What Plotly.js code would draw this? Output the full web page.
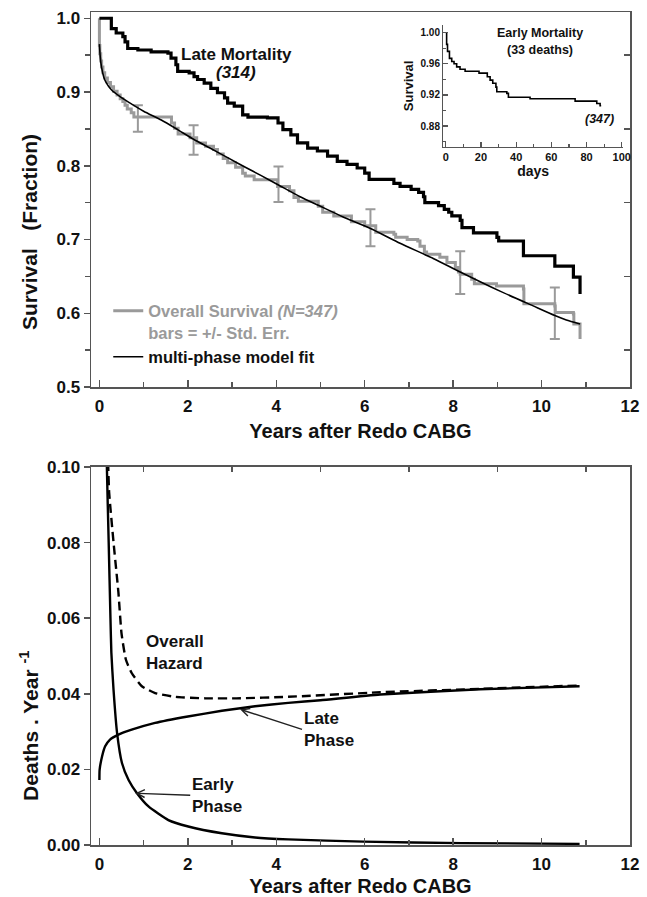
<!DOCTYPE html>
<html>
<head>
<meta charset="utf-8">
<script src="https://cdn.plot.ly/plotly-3.0.1.min.js"></script>
<style>html,body{margin:0;padding:0;background:#fff;}#chart{width:647px;height:897px;}</style>
</head>
<body>
<div id="chart"></div>
<script>
// ---- Late mortality Kaplan-Meier (years, survival) ----
const lateX = [0, 0.27, 0.38, 0.53, 0.58, 0.64, 0.87, 1.17, 1.55, 1.62, 1.73, 1.77, 2.03, 2.14, 2.22, 2.37, 2.52, 2.67, 2.83, 2.9, 3.05, 3.24, 3.36, 3.8, 4.04, 4.15, 4.33, 4.48, 4.71, 4.93, 5.16, 5.38, 5.6, 5.83, 6.0, 6.1, 6.66, 6.8, 7.05, 7.22, 7.33, 7.36, 7.67, 7.8, 7.9, 7.97, 8.16, 8.2, 8.46, 8.99, 9.03, 9.59, 10.3, 10.72, 10.87];
const lateY = [1.0, 0.986, 0.98, 0.975, 0.968, 0.959, 0.957, 0.9545, 0.9527, 0.946, 0.937, 0.928, 0.926, 0.921, 0.917, 0.912, 0.905, 0.899, 0.892, 0.885, 0.881, 0.869, 0.866, 0.865, 0.858, 0.849, 0.842, 0.831, 0.824, 0.82, 0.813, 0.806, 0.802, 0.797, 0.79, 0.7815, 0.776, 0.772, 0.768, 0.764, 0.758, 0.75, 0.746, 0.741, 0.737, 0.732, 0.726, 0.716, 0.709, 0.703, 0.698, 0.678, 0.664, 0.649, 0.626];

// ---- Overall survival Kaplan-Meier ----
const overallX = [0, 0, 0.01, 0.03, 0.05, 0.08, 0.12, 0.18, 0.25, 0.32, 0.4, 0.47, 0.53, 0.58, 0.63, 0.72, 0.78, 1.63, 1.7, 1.78, 2.05, 2.2, 2.4, 2.58, 2.67, 2.8, 2.9, 3.08, 3.24, 3.3, 3.5, 4.03, 4.3, 4.4, 4.5, 4.95, 5.05, 5.3, 5.7, 6.0, 6.25, 6.66, 6.7, 6.96, 7.2, 7.25, 7.35, 7.4, 7.7, 7.86, 8.05, 8.12, 8.16, 8.42, 8.48, 8.98, 9.59, 9.6, 10.3, 10.31, 10.72, 10.73, 10.87, 10.87];
const overallY = [1.0, 0.963, 0.952, 0.942, 0.934, 0.926, 0.919, 0.913, 0.907, 0.901, 0.896, 0.891, 0.887, 0.882, 0.877, 0.872, 0.866, 0.858, 0.851, 0.843, 0.838, 0.831, 0.8265, 0.822, 0.816, 0.81, 0.804, 0.798, 0.79, 0.786, 0.781, 0.772, 0.766, 0.757, 0.752, 0.745, 0.737, 0.732, 0.724, 0.7185, 0.71, 0.707, 0.703, 0.7, 0.698, 0.691, 0.683, 0.68, 0.676, 0.669, 0.662, 0.656, 0.653, 0.646, 0.64, 0.637, 0.633, 0.613, 0.61, 0.601, 0.599, 0.5855, 0.583, 0.565];

// ---- Standard error bars on overall survival ----
const errX = [0.87, 2.13, 4.05, 6.13, 8.16, 10.3];
const errY = [0.864, 0.835, 0.775, 0.716, 0.655, 0.60];
const errSE = [0.018, 0.02, 0.024, 0.025, 0.029, 0.035];

// ---- Multi-phase model fit ----
const fitX = [0, 0.02, 0.05, 0.1, 0.15, 0.27, 0.46, 0.64, 1.0, 1.4, 1.77, 2.13, 2.5, 2.9, 3.3, 3.65, 4.05, 4.54, 5.0, 5.5, 6.13, 6.8, 7.56, 8.16, 9.06, 9.81, 10.3, 10.56, 10.87];
const fitY = [0.965, 0.947, 0.933, 0.92, 0.913, 0.903, 0.894, 0.887, 0.874, 0.862, 0.849, 0.836, 0.824, 0.811, 0.798, 0.787, 0.774, 0.758, 0.745, 0.731, 0.715, 0.695, 0.674, 0.656, 0.630, 0.610, 0.597, 0.591, 0.5855];

// ---- Inset: early mortality (days, survival) ----
const earlyDays = [0, 0.5, 1.0, 2.1, 3.4, 4.7, 6.2, 8.1, 11, 18.9, 23.6, 25.2, 26.7, 28.5, 29, 34.7, 35.6, 47.9, 73.5, 85.8, 87.7, 88.3];
const earlySurv = [1.0, 0.985, 0.976, 0.967, 0.963, 0.96, 0.956, 0.953, 0.9505, 0.948, 0.9434, 0.939, 0.935, 0.93, 0.924, 0.922, 0.917, 0.915, 0.912, 0.909, 0.906, 0.906];

// ---- Hazard functions (years, deaths/year) ----
const latePhaseX = [0, 0.005, 0.06, 0.13, 0.24, 0.43, 0.73, 1.26, 2.0, 2.77, 3.52, 4.27, 5.0, 6.35, 8.61, 10.86];
const latePhaseY = [0.0172, 0.0199, 0.0234, 0.0261, 0.0279, 0.0292, 0.0305, 0.0323, 0.034, 0.0355, 0.0367, 0.0376, 0.0383, 0.0398, 0.0412, 0.042];
const earlyPhaseX = [0.16, 0.17, 0.21, 0.25, 0.27, 0.32, 0.40, 0.51, 0.66, 0.85, 1.11, 1.56, 2.01, 2.77, 3.52, 4.27, 5.97, 8.2, 10.86];
const earlyPhaseY = [0.11, 0.0995, 0.08, 0.06, 0.051, 0.041, 0.0296, 0.0217, 0.0172, 0.0137, 0.0102, 0.0066, 0.0049, 0.0031, 0.002, 0.0015, 0.0009, 0.0005, 0.0003];
const overallHazX = [0.19, 0.2, 0.22, 0.32, 0.43, 0.5, 0.6, 0.73, 0.96, 1.26, 1.71, 2.4, 3.1, 4.27, 6.35, 8.61, 10.86];
const overallHazY = [0.105, 0.1, 0.0933, 0.08, 0.0668, 0.056, 0.049, 0.0455, 0.042, 0.0402, 0.0392, 0.0388, 0.0388, 0.0392, 0.0404, 0.0413, 0.0422];

// ---- Extra tick positions (mirrored borders) ----
const rightTickVals = [0.55, 0.65, 0.75, 0.85, 0.95];
const topTickVals = [1, 3, 5, 7, 9, 11];

const FONT = 'Liberation Sans, Arial, sans-serif';
const GRAY = '#9a9a9a';
const AX = '#555';

const traces = [
  {x: overallX, y: overallY, type: 'scatter', mode: 'lines', line: {shape: 'hv', color: GRAY, width: 3},
   name: '<span style="color:#9a9a9a">Overall Survival <i>(N=347)</i></span><br><span style="color:#9a9a9a">bars = +/- Std. Err.</span>',
   xaxis: 'x', yaxis: 'y', showlegend: true},
  {x: errX, y: errY, type: 'scatter', mode: 'markers', marker: {size: 1, color: 'rgba(0,0,0,0)'},
   error_y: {type: 'data', array: errSE, visible: true, color: GRAY, thickness: 2, width: 5},
   xaxis: 'x', yaxis: 'y', showlegend: false, hoverinfo: 'skip'},
  {x: fitX, y: fitY, type: 'scatter', mode: 'lines', line: {shape: 'spline', smoothing: 0.6, color: '#000', width: 1.6},
   name: 'multi-phase model fit', xaxis: 'x', yaxis: 'y', showlegend: true},
  {x: lateX, y: lateY, type: 'scatter', mode: 'lines', line: {shape: 'hv', color: '#000', width: 3.2},
   name: 'Late Mortality', xaxis: 'x', yaxis: 'y', showlegend: false},
  {x: earlyDays, y: earlySurv, type: 'scatter', mode: 'lines', line: {shape: 'hv', color: '#000', width: 1.6},
   name: 'Early Mortality', xaxis: 'x3', yaxis: 'y3', showlegend: false},
  {x: overallHazX, y: overallHazY, type: 'scatter', mode: 'lines', line: {shape: 'spline', smoothing: 0.5, color: '#000', width: 2.4, dash: '9px,5px'},
   name: 'Overall Hazard', xaxis: 'x2', yaxis: 'y2', showlegend: false},
  {x: latePhaseX, y: latePhaseY, type: 'scatter', mode: 'lines', line: {shape: 'spline', smoothing: 0.5, color: '#000', width: 2.4},
   name: 'Late Phase', xaxis: 'x2', yaxis: 'y2', showlegend: false},
  {x: earlyPhaseX, y: earlyPhaseY, type: 'scatter', mode: 'lines', line: {shape: 'spline', smoothing: 0.5, color: '#000', width: 2.4},
   name: 'Early Phase', xaxis: 'x2', yaxis: 'y2', showlegend: false},
  {x: [], y: [], type: 'scatter', xaxis: 'x', yaxis: 'y4', showlegend: false},
  {x: [], y: [], type: 'scatter', xaxis: 'x4', yaxis: 'y2', showlegend: false}
];

const axBase = {showline: true, linecolor: AX, linewidth: 1.5, showgrid: false, zeroline: false,
  tickcolor: AX, tickwidth: 1.5, tickfont: {size: 17, color: '#111'}};

const layout = {
  width: 647, height: 897,
  margin: {l: 91, r: 17, t: 12, b: 52},
  paper_bgcolor: '#fff', plot_bgcolor: '#fff',
  font: {family: FONT, weight: 'bold', color: '#111'},
  showlegend: true,
  legend: {x: 0.032, y: 0.662, xanchor: 'left', yanchor: 'top', bgcolor: 'rgba(0,0,0,0)',
    font: {size: 16.5, weight: 'bold', color: '#111'}, valign: 'top', traceorder: 'normal', tracegroupgap: 4},
  xaxis: Object.assign({}, axBase, {domain: [0, 1], anchor: 'y', range: [-0.19, 12], tick0: 0, dtick: 2,
    ticks: 'inside', ticklen: 7, mirror: true, ticklabelstandoff: 3,
    minor: {dtick: 1, ticks: 'inside', ticklen: 5, tickcolor: AX, tickwidth: 1.5},
    title: {text: 'Years after Redo CABG', font: {size: 20, weight: 'bold'}, standoff: 9}}),
  yaxis: Object.assign({}, axBase, {domain: [0.5498, 1], anchor: 'x', range: [0.5, 1.0085], tick0: 0.5, dtick: 0.1,
    tickformat: '.1f', ticks: 'outside', ticklen: 6, mirror: true,
    minor: {dtick: 0.05, ticks: 'outside', ticklen: 5, tickcolor: AX, tickwidth: 1.5}}),
  yaxis4: {overlaying: 'y', anchor: 'x', side: 'right', range: [0.5, 1.0085], tickvals: rightTickVals,
    ticks: 'inside', ticklen: 6, tickwidth: 1.5, tickcolor: AX, showticklabels: false, showline: false,
    showgrid: false, zeroline: false},
  xaxis2: Object.assign({}, axBase, {domain: [0, 1], anchor: 'y2', range: [-0.19, 12], tick0: 0, dtick: 2,
    ticks: 'inside', ticklen: 7, mirror: true, ticklabelstandoff: 3,
    minor: {dtick: 1, ticks: 'inside', ticklen: 5, tickcolor: AX, tickwidth: 1.5},
    title: {text: 'Years after Redo CABG', font: {size: 20, weight: 'bold'}, standoff: 9}}),
  yaxis2: Object.assign({}, axBase, {domain: [0, 0.4538], anchor: 'x2', range: [0, 0.10], tick0: 0, dtick: 0.02,
    tickformat: '.2f', ticks: 'outside', ticklen: 6, mirror: true}),
  xaxis4: {overlaying: 'x2', anchor: 'y2', side: 'top', range: [-0.19, 12], tickvals: topTickVals,
    ticks: 'inside', ticklen: 5, tickwidth: 1.5, tickcolor: AX, showticklabels: false, showline: false,
    showgrid: false, zeroline: false},
  xaxis3: {domain: [0.6536, 0.987], anchor: 'y3', range: [-1.4, 100.7], tick0: 0, dtick: 20,
    showline: true, linecolor: AX, linewidth: 1.3, showgrid: false, zeroline: false,
    ticks: 'inside', ticklen: 5, tickwidth: 1.3, tickcolor: AX, tickfont: {size: 11, color: '#111'},
    minor: {dtick: 10, ticks: 'inside', ticklen: 3, tickcolor: AX, tickwidth: 1.3},
    title: {text: 'days', font: {size: 14, weight: 'bold'}, standoff: 2}},
  yaxis3: {domain: [0.8383, 0.9844], anchor: 'x3', range: [0.8534, 1.0099], tick0: 0.88, dtick: 0.04,
    tickformat: '.2f', showline: true, linecolor: AX, linewidth: 1.3, showgrid: false, zeroline: false,
    ticks: 'inside', ticklen: 5, tickwidth: 1.3, tickcolor: AX, tickfont: {size: 10, color: '#111'},
    minor: {dtick: 0.02, ticks: 'inside', ticklen: 3, tickcolor: AX, tickwidth: 1.3},
    title: {text: 'Survival', font: {size: 13, weight: 'bold'}, standoff: 4}},
  annotations: [
    {xref: 'paper', yref: 'paper', x: -0.1132, y: 0.7359, xanchor: 'center', yanchor: 'middle',
     text: 'Survival\u00a0\u00a0\u00a0(Fraction)', textangle: -90, showarrow: false, font: {size: 21, weight: 'bold'}},
    {xref: 'paper', yref: 'paper', x: -0.115, y: 0.143, xanchor: 'center', yanchor: 'middle',
     text: 'Deaths . Year <sup>-1</sup>', textangle: -90, showarrow: false, font: {size: 21, weight: 'bold'}},
    {xref: 'x', yref: 'y', x: 3.09, y: 0.9514, text: 'Late Mortality', showarrow: false, font: {size: 17, weight: 'bold'}},
    {xref: 'x', yref: 'y', x: 3.09, y: 0.9265, text: '<i>(314)</i>', showarrow: false, font: {size: 17, weight: 'bold'}},
    {xref: 'x3', yref: 'y3', x: 53.3, y: 0.9996, text: 'Early Mortality', showarrow: false, font: {size: 12.5, weight: 'bold'}},
    {xref: 'x3', yref: 'y3', x: 53.3, y: 0.9778, text: '(33 deaths)', showarrow: false, font: {size: 12.5, weight: 'bold'}},
    {xref: 'x3', yref: 'y3', x: 87.1, y: 0.889, text: '<i>(347)</i>', showarrow: false, font: {size: 12.5, weight: 'bold'}},
    {xref: 'x2', yref: 'y2', x: 1.0, y: 0.0508, text: 'Overall<br>Hazard', xanchor: 'left', align: 'left', showarrow: false, font: {size: 17, weight: 'bold'}},
    {xref: 'x2', yref: 'y2', x: 3.18, y: 0.0359, ax: 62, ay: 20, text: 'Late<br>Phase', xanchor: 'left', yanchor: 'middle', align: 'left',
     showarrow: true, arrowhead: 5, arrowsize: 1.1, arrowwidth: 1.4, arrowcolor: '#222', font: {size: 17, weight: 'bold'}},
    {xref: 'x2', yref: 'y2', x: 0.81, y: 0.0137, ax: 55, ay: 2, text: 'Early<br>Phase', xanchor: 'left', yanchor: 'middle', align: 'left',
     showarrow: true, arrowhead: 5, arrowsize: 1.1, arrowwidth: 1.4, arrowcolor: '#222', font: {size: 17, weight: 'bold'}}
  ]
};

Plotly.newPlot('chart', traces, layout, {displayModeBar: false, staticPlot: true});
</script>
</body>
</html>
